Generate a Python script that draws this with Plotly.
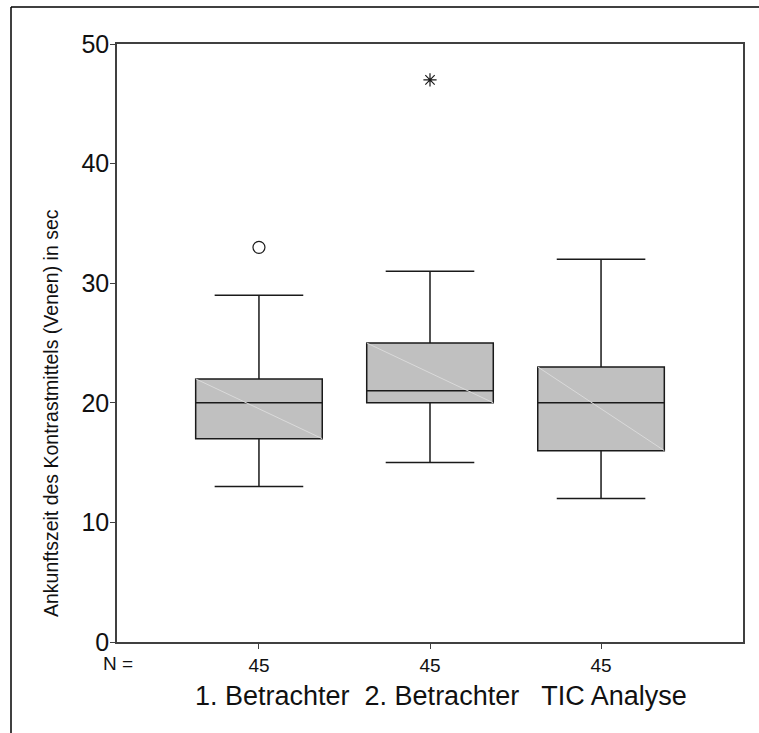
import plotly.graph_objects as go

# Data
groups = ["1. Betrachter", "2. Betrachter", "TIC Analyse"]
n_counts = [45, 45, 45]
q1 = [17, 20, 16]
median = [20, 21, 20]
q3 = [22, 25, 23]
lower_whisker = [13, 15, 12]
upper_whisker = [29, 31, 32]
outlier_group = [0]
outlier_value = [33]
extreme_group = [1]
extreme_value = [47]
y_ticks = [0, 10, 20, 30, 40, 50]

positions = list(range(len(groups)))
box_w = 0.74
FONT = "Liberation Sans, Arial, sans-serif"

fig = go.Figure()

fig.add_trace(go.Box(
    x=positions, q1=q1, median=median, q3=q3,
    lowerfence=lower_whisker, upperfence=upper_whisker,
    width=box_w, whiskerwidth=0.70, boxpoints=False,
    fillcolor="#c0c0c0", line=dict(color="#1a1a1a", width=1.5),
    showlegend=False, hoverinfo="skip",
))

# faint diagonal rendering artefact inside each box
for i in positions:
    fig.add_trace(go.Scatter(
        x=[i - box_w / 2, i + box_w / 2], y=[q3[i], q1[i]],
        mode="lines", line=dict(color="#dadada", width=1),
        showlegend=False, hoverinfo="skip",
    ))

fig.add_trace(go.Scatter(
    x=outlier_group, y=outlier_value, mode="markers",
    marker=dict(symbol="circle-open", size=12, color="#1a1a1a", line=dict(width=1.2)),
    showlegend=False, hoverinfo="skip",
))
fig.add_trace(go.Scatter(
    x=extreme_group, y=extreme_value, mode="markers",
    marker=dict(symbol="asterisk-open", size=11, color="#1a1a1a", line=dict(width=1.2, color="#1a1a1a")),
    showlegend=False, hoverinfo="skip",
))

L, R, T, B = 117, 16, 44, 91
W, H = 759, 733
pw, ph = W - L - R, H - T - B

def px_x(p):
    return (p - L) / pw

def px_y(p):
    return (H - B - p) / ph

fig.update_layout(
    width=W, height=H,
    margin=dict(l=L, r=R, t=T, b=B),
    paper_bgcolor="white", plot_bgcolor="white",
    font=dict(family=FONT, color="#111111"),
    xaxis=dict(
        range=[-0.83, len(groups) - 1 + 0.83],
        tickmode="array", tickvals=positions, ticktext=[str(n) for n in n_counts],
        tickfont=dict(size=19), ticks="outside", ticklen=5, tickcolor="#404040",
        showline=True, mirror=True, linecolor="#404040", linewidth=1.5,
        showgrid=False, zeroline=False, fixedrange=True,
    ),
    yaxis=dict(
        range=[0, 50], tickmode="array", tickvals=y_ticks,
        tickfont=dict(size=25), ticks="outside", ticklen=5, tickcolor="#404040",
        ticklabelstandoff=-4,
        showline=True, mirror=True, linecolor="#404040", linewidth=1.5,
        showgrid=False, zeroline=False, fixedrange=True,
    ),
    annotations=[
        dict(text="Ankunftszeit des Kontrastmittels (Venen) in sec",
             xref="paper", yref="paper", x=px_x(51), y=px_y(413),
             textangle=-90, showarrow=False, xanchor="center", yanchor="middle",
             font=dict(size=19.5, family=FONT, color="#111111")),
        dict(text="N =", xref="paper", yref="paper", x=px_x(118), y=px_y(663),
             showarrow=False, xanchor="center", yanchor="middle",
             font=dict(size=19, family=FONT, color="#111111")),
        dict(text="  ".join(groups[:2]) + "   " + groups[2],
             xref="paper", yref="paper", x=px_x(441), y=px_y(696),
             showarrow=False, xanchor="center", yanchor="middle",
             font=dict(size=27, family=FONT, color="#111111")),
    ],
    shapes=[
        dict(type="line", xref="paper", yref="paper",
             x0=px_x(11), x1=px_x(11), y0=px_y(7), y1=px_y(733),
             line=dict(color="black", width=1.5)),
        dict(type="line", xref="paper", yref="paper",
             x0=px_x(11), x1=px_x(759), y0=px_y(7), y1=px_y(7),
             line=dict(color="black", width=1.5)),
    ],
)

fig.write_html(
    "out.html",
    config={"displayModeBar": False},
    post_script="document.body.style.margin='0';document.body.style.overflow='hidden';",
)
